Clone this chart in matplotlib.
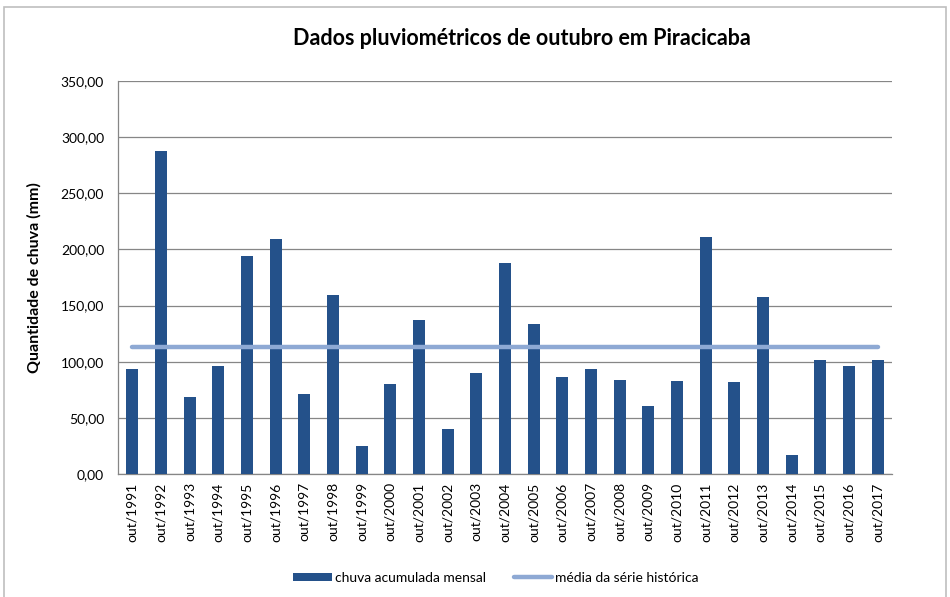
import matplotlib.pyplot as plt
from matplotlib.patches import Rectangle
from matplotlib.ticker import FuncFormatter

plt.rcParams["font.family"] = ["Lato", "DejaVu Sans"]

# monthly accumulated rain in October (mm)
anos = [str(a) for a in range(1991, 2018)]
rotulos = ["out/" + a for a in anos]
chuva = [93.5, 287.5, 68.5, 96.0, 194.0, 209.0, 71.0, 159.0, 25.0, 80.0,
         137.0, 40.0, 90.0, 188.0, 133.5, 86.0, 93.5, 84.0, 60.5, 83.0,
         211.0, 82.0, 157.5, 17.0, 101.5, 96.0, 101.5]
media = [112.8] * len(anos)
y_ticks = [0, 50, 100, 150, 200, 250, 300, 350]

fig = plt.figure(figsize=(9.5, 5.97), dpi=100)
ax = fig.add_axes([0.1242, 0.206, 0.8147, 0.6583])

x = list(range(len(anos)))
barras = ax.bar(x, chuva, width=0.42, color="#24518A", label="chuva acumulada mensal", zorder=3)
linha, = ax.plot(x, media, color="#8EA9D4", linewidth=3.2, solid_capstyle="round",
                 label="média da série histórica", zorder=4)

ax.set_xlim(-0.5, len(anos) - 0.5)
ax.set_ylim(0, 350)
ax.set_yticks(y_ticks)
ax.yaxis.set_major_formatter(FuncFormatter(lambda v, p: f"{v:.2f}".replace(".", ",")))
ax.set_xticks(x)
ax.set_xticklabels(rotulos, rotation=90, fontsize=10)
ax.tick_params(axis="y", labelsize=10, length=0, pad=10)
ax.tick_params(axis="x", length=0, pad=6)
ax.grid(axis="y", color="#868686", linewidth=0.9, zorder=0)
for s in ["top", "right"]:
    ax.spines[s].set_visible(False)
for s in ["left", "bottom"]:
    ax.spines[s].set_color("#868686")
    ax.spines[s].set_linewidth(0.9)

ax.set_ylabel("Quantidade de chuva (mm)", fontsize=11.5, fontweight="bold", labelpad=14)
fig.text(0.549, 0.936, "Dados pluviométricos de outubro em Piracicaba",
         ha="center", va="center", fontsize=15.5, fontweight="bold")

fig.legend(handles=[barras, linha], loc="center", bbox_to_anchor=(0.522, 0.032), ncol=2,
           frameon=False, fontsize=10, handlelength=2.8, handleheight=0.6,
           columnspacing=2.0, handletextpad=0.2)

# outer chart border
fig.patches.append(Rectangle((4 / 950, -0.05), 942 / 950, 1 - 7 / 597 + 0.05,
                             transform=fig.transFigure, fill=False,
                             edgecolor="#BFBFBF", linewidth=1.2))

fig.savefig("out.png", dpi=100)
